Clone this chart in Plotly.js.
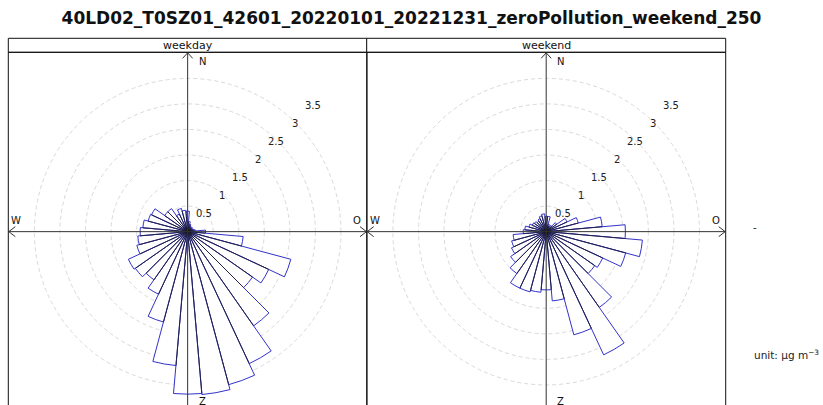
<!DOCTYPE html>
<html>
<head>
<meta charset="utf-8">
<script src="https://cdn.plot.ly/plotly-3.0.1.min.js"></script>
<style>html,body{margin:0;padding:0;overflow:hidden;background:#fff;}#chart{width:823px;height:412px;}</style>
</head>
<body>
<div id="chart"></div>
<script>
// ---- data ----
const chartTitle = "40LD02_T0SZ01_42601_20220101_20221231_zeroPollution_weekend_250";
const panelNames = ["weekday", "weekend"];
const directions = [0,10,20,30,40,50,60,70,80,90,100,110,120,130,140,150,160,170,180,190,200,210,220,230,240,250,260,270,280,290,300,310,320,330,340,350];
const weekdayValues = [0.40,0.20,0.15,0.12,0.10,0.12,0.10,0.12,0.15,0.35,1.09,2.09,1.75,1.55,2.25,2.85,3.10,3.20,3.18,2.63,1.83,1.35,1.15,1.25,1.28,1.03,0.98,0.93,0.88,0.80,0.78,0.55,0.55,0.38,0.47,0.42];
const weekendValues = [0.30,0.30,0.15,0.12,0.15,0.25,0.45,0.65,1.10,1.55,1.89,1.61,1.22,1.16,1.81,2.66,2.09,1.36,1.14,1.19,1.22,1.22,1.00,0.85,0.75,0.70,0.65,0.45,0.42,0.35,0.30,0.28,0.25,0.28,0.32,0.35];
const radialTicks = [0.5,1,1.5,2,2.5,3,3.5];
const radialTickText = ["0.5","1","1.5","2","2.5","3","3.5"];
const compassLabels = ["N","O","Z","W"];
const unitText = "unit: µg m<sup>−3</sup>";
const keyText = "-";

// ---- layout constants (pixels) ----
const W = 823, H = 412;
const FONT = "DejaVu Sans";
const BLUE = "#3232c8";
const RMAX = 3.51;
const panelBox = [{x0: 8.3, x1: 367}, {x0: 366.7, x1: 725.7}];
const stripTop = 38.3, stripBot = 52.3, panelBot = 411;
const fx = p => p / W;
const fy = p => 1 - p / H;

const seriesList = [weekdayValues, weekendValues];
const traces = [];
const shapes = [];
const annotations = [];
const layout = {
  width: W, height: H,
  margin: {l: 0, r: 0, t: 0, b: 0},
  paper_bgcolor: "white",
  showlegend: false,
  font: {family: FONT, color: "#222"},
  title: {text: "<b>" + chartTitle + "</b>", font: {family: FONT, size: 17, color: "#111"},
          x: 0.5, xanchor: "center", y: fy(18), yanchor: "middle", yref: "container"}
};

seriesList.forEach((vals, i) => {
  const sp = i === 0 ? "polar" : "polar" + (i + 1);
  const b = panelBox[i];
  const cx = (b.x0 + b.x1) / 2, cy = (stripBot + panelBot) / 2;
  const pxPerUnit = ((b.x1 - b.x0) / 2) / RMAX;
  layout[sp] = {
    domain: {x: [fx(b.x0), fx(b.x1)], y: [fy(panelBot), fy(stripBot)]},
    bgcolor: "white",
    radialaxis: {range: [0, RMAX], tickvals: radialTicks, showticklabels: false, showline: false,
                 ticks: "", angle: 45, gridcolor: "#d9d9d9", griddash: "4px,3px", gridwidth: 1,
                 layer: "below traces"},
    angularaxis: {rotation: 90, direction: "clockwise", showgrid: false, showticklabels: false,
                  ticks: "", showline: false, layer: "below traces"}
  };
  traces.push({type: "barpolar", subplot: sp, r: vals, theta: directions, width: 10,
               marker: {color: "white", line: {color: BLUE, width: 1}}, hoverinfo: "skip"});
  // black radial edges shared between neighbouring wedges
  const lr = [], lt = [];
  vals.forEach((v, k) => {
    const nxt = vals[(k + 1) % vals.length];
    const ang = directions[k] + 5;
    lr.push(0, Math.min(v, nxt), null);
    lt.push(ang, ang, null);
  });
  traces.push({type: "scatterpolar", subplot: sp, r: lr, theta: lt, mode: "lines",
               line: {color: "#1a1a1a", width: 0.75}, hoverinfo: "skip", connectgaps: false});

  // radial tick labels along the NE diagonal
  radialTicks.forEach((t, k) => {
    const d = t * pxPerUnit * Math.SQRT1_2;
    annotations.push({text: radialTickText[k], xref: "paper", yref: "paper", x: fx(cx + d - 1.5), y: fy(cy - d),
                      showarrow: false, font: {size: 10, family: FONT, color: "#222"}, xanchor: "center", yanchor: "middle"});
  });

  // panel frame + strip
  shapes.push({type: "rect", xref: "paper", yref: "paper", x0: fx(b.x0), x1: fx(b.x1), y0: fy(stripBot), y1: fy(stripTop),
               line: {color: "#111", width: 1}, fillcolor: "white", layer: "above"});
  shapes.push({type: "rect", xref: "paper", yref: "paper", x0: fx(b.x0), x1: fx(b.x1), y0: fy(panelBot + 5), y1: fy(stripBot),
               line: {color: "#111", width: 1}, fillcolor: "rgba(0,0,0,0)", layer: "above"});
  annotations.push({text: panelNames[i], xref: "paper", yref: "paper", x: fx(cx), y: fy((stripTop + stripBot) / 2),
                    showarrow: false, font: {size: 11, family: FONT, color: "#111"}, xanchor: "center", yanchor: "middle"});
  // cross axes
  const ac = "#333";
  shapes.push({type: "line", xref: "paper", yref: "paper", x0: fx(b.x0), x1: fx(b.x1), y0: fy(cy), y1: fy(cy), line: {color: ac, width: 1}});
  shapes.push({type: "line", xref: "paper", yref: "paper", x0: fx(cx), x1: fx(cx), y0: fy(stripBot), y1: fy(panelBot), line: {color: ac, width: 1}});
  const path = pts => "M" + pts.map(p => fx(p[0]) + "," + fy(p[1])).join(" L");
  const ah = 6, aw = 5;
  shapes.push({type: "path", xref: "paper", yref: "paper", path: path([[cx - aw, stripBot + ah], [cx, stripBot + 0.5], [cx + aw, stripBot + ah]]), line: {color: ac, width: 1}});
  shapes.push({type: "path", xref: "paper", yref: "paper", path: path([[b.x0 + ah + 1, cy - aw], [b.x0 + 0.5, cy], [b.x0 + ah + 1, cy + aw]]), line: {color: ac, width: 1}});
  shapes.push({type: "path", xref: "paper", yref: "paper", path: path([[b.x1 - ah - 1, cy - aw], [b.x1 - 0.5, cy], [b.x1 - ah - 1, cy + aw]]), line: {color: ac, width: 1}});
  // compass labels
  const lf = {size: 10, family: FONT, color: "#111"};
  annotations.push({text: compassLabels[0], xref: "paper", yref: "paper", x: fx(cx + 9), y: fy(stripBot + 9), showarrow: false, font: lf, xanchor: "left", yanchor: "middle"});
  annotations.push({text: compassLabels[1], xref: "paper", yref: "paper", x: fx(b.x1 - 10), y: fy(cy - 11), showarrow: false, font: lf, xanchor: "center", yanchor: "middle"});
  annotations.push({text: compassLabels[2], xref: "paper", yref: "paper", x: fx(cx + 9), y: fy(cy + 170), showarrow: false, font: lf, xanchor: "left", yanchor: "middle"});
  annotations.push({text: compassLabels[3], xref: "paper", yref: "paper", x: fx(b.x0 + 8), y: fy(cy - 11), showarrow: false, font: lf, xanchor: "center", yanchor: "middle"});
});

annotations.push({text: keyText, xref: "paper", yref: "paper", x: fx(755), y: fy(227), showarrow: false,
                  font: {size: 10, family: FONT, color: "#222"}, xanchor: "center", yanchor: "middle"});
annotations.push({text: unitText, xref: "paper", yref: "paper", x: fx(752), y: fy(354), showarrow: false,
                  font: {size: 10.5, family: FONT, color: "#222"}, xanchor: "left", yanchor: "middle"});

layout.shapes = shapes;
layout.annotations = annotations;

Plotly.newPlot("chart", traces, layout, {staticPlot: true, displayModeBar: false});
</script>
</body>
</html>
